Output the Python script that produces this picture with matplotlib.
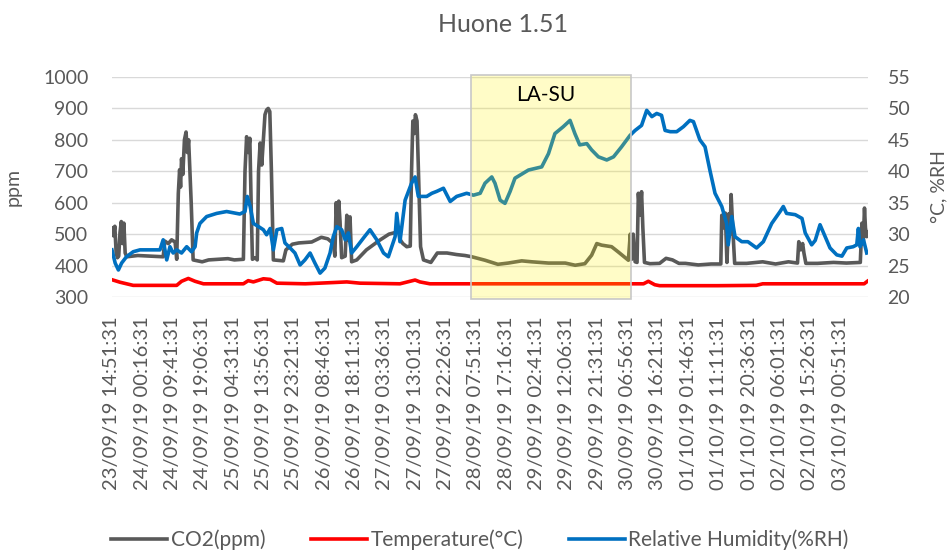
import numpy as np
import matplotlib
matplotlib.use("Agg")
import matplotlib.pyplot as plt
from matplotlib.patches import Rectangle

plt.rcParams['font.family'] = ['Lato', 'DejaVu Sans']

# time in hours since 23/09/19 14:51:31
co2_t = [0, 0.4, 0.9, 1.3, 1.7, 2.1, 2.5, 2.9, 3.3, 3.7, 4.1, 4.6,
         8, 12, 15.9, 16.4, 17.5, 18.5, 19.6, 20.1,
         20.6, 21.0, 21.3, 21.6, 22.0, 22.5, 23.0, 23.4, 23.8, 24.2, 24.6, 25.2,
         28, 30, 33, 36, 38, 40.8,
         41.3, 41.8, 42.3, 42.8, 43.2, 43.6, 44.5, 45.1, 45.5, 46.0, 46.5, 47.0, 47.5, 48.0, 48.5, 49.0, 49.5, 50.1,
         53.2, 54.0, 56, 58, 62, 65, 67, 68.7,
         69.2, 69.6, 70.0, 70.4, 70.8, 71.3, 72.4, 72.9, 73.4, 73.9, 74.4,
         76, 79, 83, 86, 89, 89.6, 90.3, 91.5, 92.6,
         93.0, 93.4, 93.8, 94.2, 94.7, 95.3, 95.8, 96.7,
         99, 101, 104, 107, 109.6, 111.7, 115.8, 119.8, 123.0, 127.2, 130.3, 135.5, 140.7, 143.8, 146.8, 148.9, 150.5, 152.0, 155.1, 157.2, 160.3,
         160.9, 161.3, 161.8, 162.4, 163.0, 163.4, 163.9, 164.4, 164.8, 165.3,
         167, 170, 172, 174, 176, 178, 182, 186, 189.0,
         189.3, 189.8, 190.4, 190.9, 191.5, 191.9, 192.2, 192.7, 193.3,
         197, 202, 206, 210, 212.8,
         213.2, 213.8, 214.4, 214.8, 215.4,
         219, 224, 228, 232.3,
         232.8, 233.2, 233.6, 233.9, 234.3, 234.7]
co2_ppm = [520, 495, 525, 440, 425, 430, 505, 540, 470, 535, 440, 428,
           432, 430, 428, 478, 470, 482, 475, 420,
           630, 705, 650, 740, 690, 800, 825, 760, 800, 700, 600, 418,
           412, 418, 420, 422, 418, 420,
           700, 810, 760, 805, 600, 420, 425, 418, 700, 790, 720, 800, 880, 895, 900, 890, 700, 418,
           415, 450, 468, 472, 475, 490, 485, 470,
           430, 600, 520, 605, 540, 425, 430, 560, 480, 555, 412,
           418, 450, 480, 500, 508, 480, 470, 460, 462,
           700, 860, 820, 880, 860, 640, 460, 418,
           410, 440, 440, 435, 432, 428, 417, 404, 408, 415, 412, 408, 408, 401, 406, 433, 470, 465, 460, 443, 417,
           500, 420, 500, 412, 410, 630, 560, 635, 520, 410,
           406, 407, 423, 418, 407, 407, 402, 405, 405,
           560, 520, 567, 410, 565, 500, 626, 520, 407,
           407, 412, 405, 412, 408,
           476, 450, 470, 440, 407,
           407, 410, 408, 410,
           535, 470, 583, 520, 492, 505]

temp_t = [0, 2.5, 6.6, 20.1, 21.6, 23.7, 25.8, 28.4, 40.8, 42.3, 43.9, 47.0, 49.1, 51.2,
          60, 68.7, 72.9, 77.0, 89.4, 94.1, 95.6, 98.7, 120, 150, 165, 166.5, 168.5,
          170, 188, 200, 202, 220, 233.5, 234.5]
temp_c = [22.75, 22.35, 21.85, 21.85, 22.5, 22.95, 22.5, 22.1, 22.1, 22.6, 22.4, 22.9, 22.8, 22.2,
          22.1, 22.3, 22.4, 22.2, 22.1, 22.7, 22.4, 22.1, 22.1, 22.1, 22.1, 22.5, 21.95,
          21.8, 21.8, 21.85, 22.1, 22.1, 22.1, 22.5]

rh_t = [0, 1.0, 2.0, 3.0, 4.5, 6.6, 8.7, 11.8, 14.9, 15.9,
        17.0, 18.0, 19.0, 20.1, 21.6, 23.2, 24.7, 25.8, 26.3, 27.3,
        29.4, 32.5, 35.6, 39.7, 41.3, 42.0, 42.9, 43.9, 45.5, 47.0,
        48.0, 49.1, 50.1, 51.2, 52.7, 53.7, 55.3, 56.8, 58.4, 59.9,
        61.5, 63.0, 64.6, 66.1, 67.7, 68.7, 69.8, 71.3, 72.4, 73.4,
        74.4, 76.0, 78.1, 80.1, 82.2, 84.3, 85.8, 87.9, 88.4, 89.4,
        91.0, 93.0, 94.1, 95.1, 97.7, 99.3, 100.8, 102.9, 105.0, 107.0,
        110.1, 112.2, 114.3, 115.8, 117.9, 118.9, 120.5, 122.0, 123.6, 125.1,
        127.7, 129.3, 131.8, 133.4, 135.5, 137.5, 140.1, 142.2, 143.7, 145.2,
        147.4, 148.9, 151.0, 153.6, 155.7, 158.2, 160.8, 162.4, 164.4, 166.0,
        167.6, 169.1, 170.6, 171.7, 173.3, 175.3, 177.4, 179.4, 180.5, 182.5,
        184.1, 185.6, 187.2, 189.3, 190.8, 191.3, 192.4, 193.4, 195.5, 197.4,
        200.1, 202.2, 204.8, 207.4, 208.4, 209.4, 212.1, 214.2, 215.2, 217.2,
        218.3, 219.8, 221.4, 222.9, 225.0, 226.6, 228.1, 230.1, 231.2, 231.7,
        232.2, 233.3, 234.3]
rh_pct = [27.5, 25.4, 24.3, 25.4, 26.4, 27.2, 27.5, 27.5, 27.5, 29.1,
          25.9, 28.0, 27.0, 27.5, 27.0, 28.0, 27.2, 28.0, 30.2, 31.7,
          32.8, 33.3, 33.6, 33.2, 33.6, 36.0, 34.4, 31.7, 31.2, 30.7,
          29.9, 30.9, 27.5, 30.7, 30.9, 28.6, 27.8, 27.0, 25.1, 25.9,
          27.0, 25.4, 23.8, 24.6, 27.0, 29.6, 31.2, 30.7, 29.1, 30.2,
          27.0, 28.0, 29.4, 30.7, 29.1, 27.0, 26.4, 29.6, 33.3, 28.8,
          35.4, 38.1, 39.1, 36.0, 36.0, 36.5, 36.8, 37.3, 35.2, 36.0,
          36.5, 36.2, 36.5, 38.1, 39.1, 38.1, 35.4, 34.9, 36.8, 38.9,
          39.7, 40.2, 40.5, 40.7, 42.8, 46.0, 47.1, 48.1, 46.0, 44.2,
          44.4, 43.4, 42.3, 41.8, 42.3, 43.9, 45.7, 46.5, 47.3, 49.7,
          48.7, 49.2, 48.9, 46.5, 46.3, 46.3, 47.1, 48.1, 47.9, 45.0,
          43.9, 40.2, 36.5, 34.4, 31.7, 28.3, 32.8, 29.6, 28.8, 28.8,
          27.8, 28.8, 31.7, 33.6, 34.4, 33.3, 33.1, 32.5, 30.2, 28.3,
          29.0, 31.5, 29.6, 27.8, 26.7, 26.5, 27.8, 28.0, 28.3, 30.9,
          28.0, 29.1, 27.0]

tick_labels = ['23/09/19 14:51:31', '24/09/19 00:16:31', '24/09/19 09:41:31', '24/09/19 19:06:31',
               '25/09/19 04:31:31', '25/09/19 13:56:31', '25/09/19 23:21:31', '26/09/19 08:46:31',
               '26/09/19 18:11:31', '27/09/19 03:36:31', '27/09/19 13:01:31', '27/09/19 22:26:31',
               '28/09/19 07:51:31', '28/09/19 17:16:31', '29/09/19 02:41:31', '29/09/19 12:06:31',
               '29/09/19 21:31:31', '30/09/19 06:56:31', '30/09/19 16:21:31', '01/10/19 01:46:31',
               '01/10/19 11:11:31', '01/10/19 20:36:31', '02/10/19 06:01:31', '02/10/19 15:26:31',
               '03/10/19 00:51:31']
tick_step = 9 + 25 / 60  # hours between labels
weekend = (111.5, 161.1)  # LA-SU box, hours

grey_txt = '#595959'

fig = plt.figure(figsize=(9.52, 5.54), dpi=100)
ax = fig.add_axes([0.1176, 0.4639, 0.7942, 0.3971])
ax2 = ax.twinx()

l1, = ax.plot(co2_t, co2_ppm, color='#595959', lw=2.6, label='CO2(ppm)')
l2, = ax2.plot(temp_t, temp_c, color='#FF0000', lw=2.6, label='Temperature(°C)')
l3, = ax2.plot(rh_t, rh_pct, color='#0070C0', lw=2.6, label='Relative Humidity(%RH)')

ax.set_ylim(300, 1000)
ax.set_yticks(range(300, 1001, 100))
ax2.set_ylim(20, 55)
ax2.set_yticks(range(20, 56, 5))
ax.set_xlim(0, 234.7)
ax.set_xticks([i * tick_step for i in range(len(tick_labels))])
ax.set_xticklabels(tick_labels, rotation=90, fontsize=14.5)

ax.yaxis.grid(True, color='#D9D9D9', lw=1)
ax.set_axisbelow(True)
for a in (ax, ax2):
    for s in a.spines.values():
        s.set_visible(False)
    a.tick_params(length=0, labelsize=14, labelcolor=grey_txt)
ax.tick_params(axis='x', labelsize=14.5)
ax.tick_params(axis='y', pad=17)
ax.tick_params(axis='x', pad=14)
ax2.tick_params(axis='y', pad=14)

ax.set_ylabel('ppm', fontsize=14, color=grey_txt)
ax.yaxis.set_label_coords(-0.119, 0.5)
ax2.set_ylabel('°C, %RH', fontsize=14, color=grey_txt)
ax2.yaxis.set_label_coords(1.083, 0.5)

# weekend box drawn over the lines
box = Rectangle((weekend[0], -0.01), weekend[1] - weekend[0], 1.02,
                transform=ax2.get_xaxis_transform(), facecolor='#FFF200', alpha=0.22,
                edgecolor='none', zorder=5, clip_on=False)
ax2.add_patch(box)
edge = Rectangle((weekend[0], -0.01), weekend[1] - weekend[0], 1.02,
                 transform=ax2.get_xaxis_transform(), facecolor='none',
                 edgecolor='#C8C8C8', lw=1.2, zorder=6, clip_on=False)
ax2.add_patch(edge)
ax2.text((weekend[0] + weekend[1]) / 2 - 1.5, 0.918, 'LA-SU', transform=ax2.get_xaxis_transform(),
         ha='center', va='center', fontsize=15, color='black', zorder=7)

fig.text(503 / 952, 1 - 24 / 554, 'Huone 1.51', ha='center', va='center', fontsize=18, color=grey_txt)

fig.legend(handles=[l1, l2, l3], loc='center', bbox_to_anchor=(480 / 952, 14 / 554), ncol=3,
           frameon=False, fontsize=15, labelcolor=grey_txt, handlelength=2.7, handletextpad=0.15,
           columnspacing=2.2)

fig.savefig('out.png', dpi=100)
